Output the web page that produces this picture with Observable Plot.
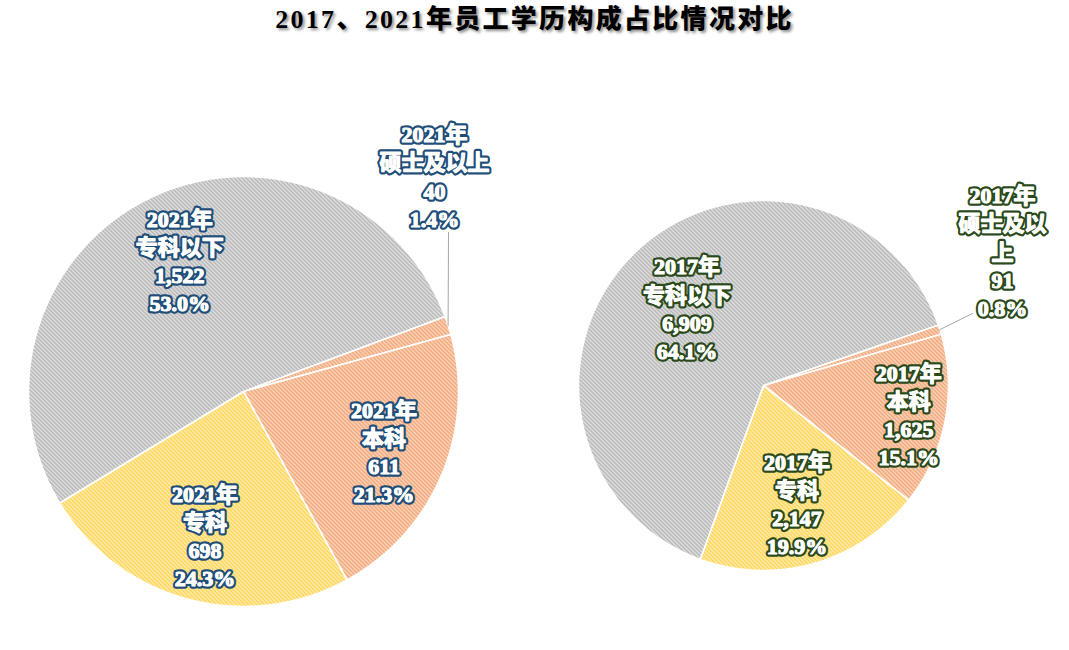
<!DOCTYPE html>
<html><head><meta charset="utf-8">
<script src="https://cdn.jsdelivr.net/npm/d3@7"></script>
<script src="https://cdn.jsdelivr.net/npm/@observablehq/plot@0.6"></script>
<style>
body{margin:0;background:#fff;}
#title{height:40px;line-height:40px;text-align:center;font-family:"Liberation Serif","Noto Sans CJK SC",serif;font-weight:900;font-size:26px;letter-spacing:2.3px;color:#000;text-shadow:2px 2px 3px rgba(0,0,0,0.45);}
</style></head><body>
<div id="title">2017、2021年员工学历构成占比情况对比</div>
<div id="chart"></div>
<script>
// ---- data ----
const categories = ["硕士及以上", "本科", "专科", "专科以下"];
const values2021 = [40, 611, 698, 1522];
const values2017 = [91, 1625, 2147, 6909];
const years = ["2021年", "2017年"];
const labelNames2021 = ["硕士及以上", "本科", "专科", "专科以下"];
const labelNames2017 = ["硕士及以\n上", "本科", "专科", "专科以下"];
const patternKey = {"硕士及以上": "orange", "本科": "orange", "专科": "yellow", "专科以下": "grey"};

// ---- layout ----
const W = 1069, H = 610;
const pies = [
  {values: values2021, names: labelNames2021, year: years[0], cx: 243, cy: 351, r: 215, start: -20.4,
   k: [0, 0.71, 0.69, 0.68], out: {dx: 191, dy: -216}, lead: {dx: 205, dy: -159}, id: "blue"},
  {values: values2017, names: labelNames2017, year: years[1], cx: 763, cy: 345, r: 185, start: -19.1,
   k: [0, 0.8, 0.66, 0.59], out: {dx: 239, dy: -135}, lead: {dx: 209, dy: -72}, id: "green"}
];
const rad = d => d * Math.PI / 180;

const marks = [];
const fmtN = d3.format(",");
const fmtP = d3.format(".1%");
const font = "'Liberation Serif','Noto Sans CJK SC',serif";

for (const p of pies) {
  const total = d3.sum(p.values);
  let a = p.start;
  const slices = p.values.map((v, i) => {
    const span = v / total * 360;
    const s = {cat: categories[i], value: v, pct: v / total, a0: a, a1: a + span, mid: a + span / 2, name: p.names[i], k: p.k[i]};
    a += span;
    return s;
  });
  for (const s of slices) {
    const pts = [{x: p.cx, y: p.cy}];
    for (let d = s.a0; d < s.a1; d += 0.5) pts.push({x: p.cx + p.r * Math.cos(rad(d)), y: p.cy + p.r * Math.sin(rad(d))});
    pts.push({x: p.cx + p.r * Math.cos(rad(s.a1)), y: p.cy + p.r * Math.sin(rad(s.a1))});
    pts.push({x: p.cx, y: p.cy});
    marks.push(Plot.line(pts, {x: "x", y: "y", fill: `url(#h-${patternKey[s.cat]})`, stroke: "white", strokeWidth: 1.6, strokeLinejoin: "round", curve: "linear"}));
  }
  const labels = slices.map(s => {
    const text = `${p.year}\n${s.name}\n${fmtN(s.value)}\n${fmtP(s.pct)}`;
    if (s.k === 0) return {x: p.cx + p.out.dx, y: p.cy + p.out.dy, text};
    const rr = s.k * p.r;
    return {x: p.cx + rr * Math.cos(rad(s.mid)), y: p.cy + rr * Math.sin(rad(s.mid)), text};
  });
  const small = slices[0];
  const leader = [
    {x: p.cx + p.r * Math.cos(rad(small.mid)), y: p.cy + p.r * Math.sin(rad(small.mid))},
    {x: p.cx + p.lead.dx, y: p.cy + p.lead.dy}
  ];
  marks.push(Plot.line(leader, {x: "x", y: "y", stroke: "#a6a6a6", strokeWidth: 1}));
  const textOpts = {x: "x", y: "y", text: "text", fontSize: 22, fontWeight: "bold", lineHeight: 1.28, fontFamily: font};
  marks.push(Plot.text(labels, {...textOpts, fill: "white",
    stroke: p.id === "blue" ? "#1f4e79" : "#2b4a1b", strokeWidth: 5.5, strokeLinejoin: "round",
    ariaLabel: "lbl-" + p.id}));
  marks.push(Plot.text(labels, {...textOpts, fill: "white", stroke: "white", strokeWidth: 1.1, strokeLinejoin: "round"}));
}

const chart = Plot.plot({
  width: W, height: H, margin: 0,
  x: {domain: [0, W], axis: null},
  y: {domain: [0, H], reverse: true, axis: null},
  marks
});

d3.select(chart).insert("defs", ":first-child").html(`
<pattern id="h-grey" patternUnits="userSpaceOnUse" width="4" height="4">
  <rect width="4" height="4" fill="#efefef"/>
  <path d="M-1,-1L5,5M-1,3L1,5M3,-1L5,1" stroke="#a3a3a3" stroke-width="1.3"/>
</pattern>
<pattern id="h-orange" patternUnits="userSpaceOnUse" width="4" height="4">
  <rect width="4" height="4" fill="#fce4d4"/>
  <path d="M-1,-1L5,5M-1,3L1,5M3,-1L5,1" stroke="#f0935a" stroke-width="1.3"/>
</pattern>
<pattern id="h-yellow" patternUnits="userSpaceOnUse" width="4" height="4">
  <rect width="4" height="4" fill="#fff4cf"/>
  <path d="M-1,-1L5,5M-1,3L1,5M3,-1L5,1" stroke="#ffcb2e" stroke-width="1.3"/>
</pattern>`);
d3.select(chart).selectAll('g[aria-label="lbl-blue"] text').style("filter", "drop-shadow(0 0 2px #5b9bd5) drop-shadow(0 0 1px #2e75b6)");
d3.select(chart).selectAll('g[aria-label="lbl-green"] text').style("filter", "drop-shadow(0 0 2px #70ad47) drop-shadow(0 0 1px #385723)");
document.getElementById("chart").appendChild(chart);
</script>
</body></html>
